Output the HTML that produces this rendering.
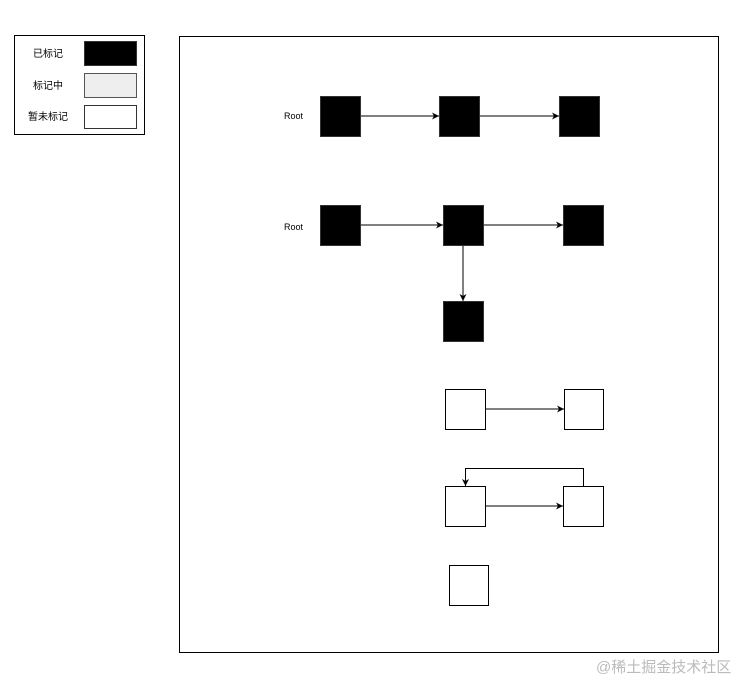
<!DOCTYPE html>
<html><head><meta charset="utf-8"><style>
html,body{margin:0;padding:0;background:#fff;width:741px;height:682px;overflow:hidden}
text{font-family:"Liberation Sans","Noto Sans CJK SC",sans-serif}
</style></head><body>
<svg width="741" height="682" xmlns="http://www.w3.org/2000/svg">
<defs><marker id="a" markerWidth="8" markerHeight="8" refX="7" refY="4" orient="auto" markerUnits="userSpaceOnUse"><path d="M0,0.5 L7,4 L0,7.5 L2,4 Z" fill="#000"/></marker></defs>
<rect x="14.5" y="35.5" width="130" height="99" fill="#fff" stroke="#000"/>
<text x="48" y="57" font-size="10" text-anchor="middle">已标记</text>
<text x="48" y="89" font-size="10" text-anchor="middle">标记中</text>
<text x="48" y="120" font-size="10" text-anchor="middle">暂未标记</text>
<rect x="84.5" y="41.5" width="52" height="24" fill="#000" stroke="#333"/>
<rect x="84.5" y="73.5" width="52" height="24" fill="#eee" stroke="#555"/>
<rect x="84.5" y="105.5" width="52" height="23" fill="#fff" stroke="#333"/>
<rect x="179.5" y="36.5" width="539" height="616" fill="#fff" stroke="#000"/>
<g stroke="#000" fill="none" stroke-width="1">
<line x1="360" y1="116" x2="439" y2="116" marker-end="url(#a)"/>
<line x1="480" y1="116" x2="559" y2="116" marker-end="url(#a)"/>
<line x1="360" y1="225" x2="443" y2="225" marker-end="url(#a)"/>
<line x1="484" y1="225" x2="563" y2="225" marker-end="url(#a)"/>
<line x1="463" y1="245" x2="463" y2="301" marker-end="url(#a)"/>
<line x1="485" y1="409" x2="564" y2="409" marker-end="url(#a)"/>
<line x1="485" y1="506" x2="563" y2="506" marker-end="url(#a)"/>
<polyline points="583.5,486 583.5,468.5 465.5,468.5 465.5,486" marker-end="url(#a)"/>
</g>
<text x="284" y="119" font-size="9">Root</text>
<text x="284" y="230" font-size="9">Root</text>
<g fill="#000" stroke="#333">
<rect x="320.5" y="96.5" width="40" height="40"/>
<rect x="439.5" y="96.5" width="40" height="40"/>
<rect x="559.5" y="96.5" width="40" height="40"/>
<rect x="320.5" y="205.5" width="40" height="40"/>
<rect x="443.5" y="205.5" width="40" height="40"/>
<rect x="563.5" y="205.5" width="40" height="40"/>
<rect x="443.5" y="301.5" width="40" height="40"/>
</g>
<g fill="#fff" stroke="#000">
<rect x="445.5" y="389.5" width="40" height="40"/>
<rect x="564.5" y="389.5" width="39" height="40"/>
<rect x="445.5" y="486.5" width="40" height="40"/>
<rect x="563.5" y="486.5" width="40" height="40"/>
<rect x="449.5" y="565.5" width="39" height="40"/>
</g>
<text x="596" y="672" font-size="15" fill="#bbb">@稀土掘金技术社区</text>
</svg>
</body></html>
